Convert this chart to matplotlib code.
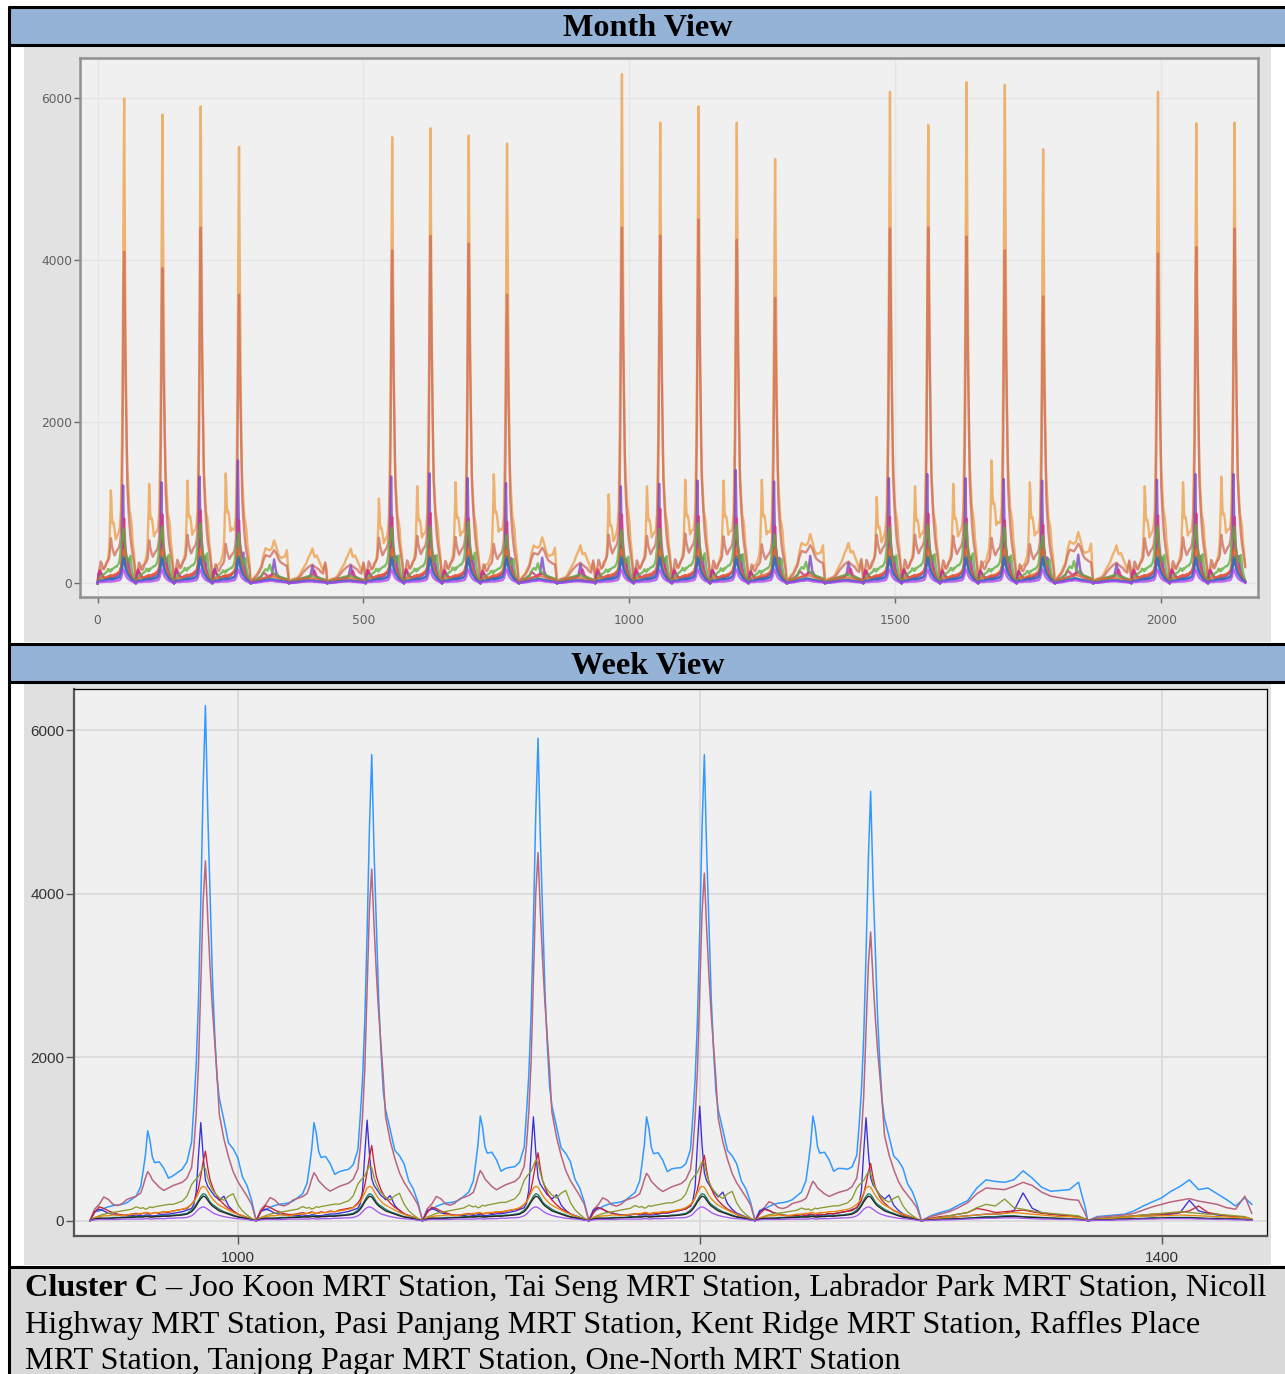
import numpy as np
import matplotlib
matplotlib.use("Agg")
import matplotlib.pyplot as plt
from matplotlib.patches import Rectangle
from matplotlib.lines import Line2D

# ------------------------------------------------------------------ data
DAY_LEN = 72
# W = weekday, A/B = weekend / holiday days (30 days in the month view)
DAY_KIND = "WWWWABBWWWWABWWWWWABWWWWWABWWW"

# weekday profile (offsets within a day), read from the first day of the week view
WD_OFF = [0, 2, 4, 6, 8, 10, 12, 14, 16, 18, 20, 22,
          23, 24, 25, 26, 27, 28,
          30, 32, 34, 36, 38, 40, 42, 44,
          45, 46, 47, 48, 49, 50, 51, 52, 53, 54, 55, 56,
          58, 60, 62, 64, 66, 68, 70]
WD_BLUE = [0, 110, 120, 150, 170, 185, 190, 200, 220, 260, 300, 420,
           600, 800, 1100, 980, 780, 710,
           720, 640, 520, 550, 590, 630, 720, 960,
           1400, 1900, 2700, 3900, 5300, 6300, 5000, 4000, 3000, 2300, 1750, 1500,
           1230, 950, 880, 770, 540, 430, 250]
WD_MAUVE = [0, 140, 200, 290, 260, 200, 185, 210, 260, 280, 300, 340,
            420, 520, 600, 560, 500, 470,
            410, 370, 400, 430, 450, 470, 520, 650,
            900, 1300, 1900, 2900, 3900, 4400, 3700, 3100, 2600, 2200, 1800, 1300,
            1000, 780, 600, 480, 390, 300, 200]
WD_BVIOLET = [0, 110, 140, 120, 90, 80, 70, 60, 60, 60, 70, 60,
              60, 70, 70, 60, 60, 60,
              70, 80, 80, 90, 100, 110, 130, 150,
              200, 350, 800, 1200, 800, 500, 420, 380, 340, 300, 280, 250,
              300, 180, 120, 80, 60, 40, 20]
WD_RED = [0, 100, 170, 150, 120, 100, 80, 70, 70, 80, 90, 80,
          90, 100, 90, 80, 90, 100,
          90, 110, 100, 120, 130, 140, 150, 200,
          240, 300, 400, 550, 720, 850, 650, 500, 420, 350, 300, 260,
          200, 150, 120, 80, 60, 40, 20]
WD_OLIVE = [0, 40, 60, 80, 90, 100, 110, 120, 130, 140, 170, 150,
            160, 140, 150, 170, 160, 170,
            180, 190, 200, 200, 220, 240, 300, 440,
            480, 510, 540, 600, 660, 640, 520, 440, 380, 340, 310, 280,
            250, 300, 330, 200, 120, 70, 30]
WD_ORANGE = [0, 30, 50, 60, 60, 70, 70, 60, 70, 80, 80, 90,
             90, 100, 100, 90, 90, 100,
             100, 110, 110, 120, 130, 140, 160, 200,
             230, 280, 340, 400, 420, 410, 360, 310, 270, 240, 210, 190,
             160, 130, 100, 80, 60, 40, 20]
WD_TEAL = [0, 20, 30, 30, 30, 40, 40, 40, 40, 50, 50, 50,
           50, 60, 60, 50, 50, 50,
           60, 60, 60, 70, 70, 80, 90, 130,
           160, 200, 250, 300, 330, 320, 280, 230, 200, 180, 160, 140,
           110, 90, 70, 50, 40, 30, 10]
WD_BLACK = [0, 20, 30, 30, 30, 30, 35, 35, 40, 40, 45, 45,
            45, 50, 50, 45, 45, 50,
            50, 55, 55, 60, 65, 70, 80, 110,
            140, 180, 230, 270, 300, 290, 250, 210, 180, 160, 140, 120,
            100, 80, 60, 45, 35, 25, 10]
WD_VIOLET = [0, 10, 15, 15, 15, 15, 15, 20, 20, 20, 20, 20,
             20, 25, 25, 20, 20, 25,
             25, 25, 30, 30, 35, 35, 40, 60,
             80, 110, 140, 160, 170, 160, 140, 120, 100, 85, 75, 65,
             50, 40, 30, 25, 20, 15, 5]

# weekend profiles (A = first weekend day, B = second)
WE_OFF = [0, 4, 8, 12, 16, 20, 24, 28, 32, 36, 40, 44, 48, 52, 56, 60, 64, 68, 71]
WEA_BLUE = [0, 60, 100, 130, 190, 245, 400, 500, 480, 470, 500, 610, 520, 410, 360, 370, 380, 470, 150]
WEA_MAUVE = [0, 50, 80, 110, 160, 220, 330, 400, 390, 380, 420, 470, 430, 350, 300, 280, 260, 250, 80]
WEA_BVIOLET = [0, 20, 30, 40, 50, 60, 70, 80, 80, 90, 120, 340, 150, 100, 80, 70, 60, 50, 20]
WEA_RED = [0, 30, 50, 60, 80, 100, 150, 130, 100, 110, 120, 130, 110, 90, 80, 70, 60, 50, 20]
WEA_OLIVE = [0, 20, 40, 60, 80, 100, 160, 200, 180, 265, 160, 140, 120, 100, 90, 80, 70, 60, 20]
WEA_ORANGE = [0, 20, 30, 40, 50, 60, 70, 80, 80, 90, 100, 90, 80, 70, 60, 50, 50, 40, 10]
WEA_TEAL = [0, 10, 15, 20, 25, 30, 40, 50, 50, 60, 60, 50, 45, 40, 35, 30, 25, 20, 5]
WEA_BLACK = [0, 10, 15, 20, 25, 30, 35, 40, 40, 50, 55, 45, 40, 35, 30, 25, 20, 15, 5]
WEA_VIOLET = [0, 5, 10, 10, 15, 20, 25, 30, 30, 35, 35, 30, 25, 20, 20, 15, 15, 10, 5]

WEB_BLUE = [0, 50, 60, 70, 80, 120, 180, 230, 280, 360, 420, 500, 380, 400, 330, 260, 180, 280, 200]
WEB_MAUVE = [0, 40, 50, 60, 70, 90, 130, 170, 200, 230, 250, 270, 240, 220, 200, 160, 140, 300, 90]
WEB_BVIOLET = [0, 20, 30, 30, 40, 50, 60, 60, 70, 80, 100, 250, 120, 90, 70, 60, 50, 40, 20]
WEB_RED = [0, 20, 30, 40, 50, 60, 70, 80, 80, 90, 100, 120, 180, 100, 80, 60, 50, 40, 20]
WEB_OLIVE = [0, 20, 30, 40, 50, 60, 70, 80, 90, 100, 110, 100, 90, 80, 80, 70, 60, 50, 20]
WEB_ORANGE = [0, 15, 20, 30, 40, 50, 55, 60, 60, 65, 70, 65, 60, 55, 50, 45, 40, 35, 15]
WEB_TEAL = [0, 10, 10, 15, 20, 25, 30, 35, 35, 40, 40, 40, 35, 30, 30, 25, 20, 15, 5]
WEB_BLACK = [0, 10, 10, 15, 20, 20, 25, 30, 30, 35, 35, 35, 30, 25, 25, 20, 20, 15, 5]
WEB_VIOLET = [0, 5, 5, 10, 10, 15, 20, 20, 25, 25, 25, 25, 20, 20, 15, 15, 10, 10, 5]

# per weekday (21 weekdays) peak values read from the month view
BLUE_PM = [6000, 5800, 5900, 5400, 5520, 5630, 5540, 5440, 6300, 5700, 5900, 5700, 5250,
           6080, 5670, 6200, 6170, 5370, 6080, 5690, 5700]
BLUE_AM = [1150, 1230, 1270, 1360, 1050, 1200, 1250, 1350, 1100, 1200, 1280, 1270, 1280,
           1070, 1200, 1230, 1520, 1250, 1200, 1250, 1320]
MAUVE_PM = [4100, 3900, 4400, 3570, 4120, 4300, 4200, 3570, 4400, 4300, 4500, 4250, 3530,
            4390, 4400, 4290, 4120, 3550, 4080, 4160, 4390]
BVIOLET_PM = [1210, 1250, 1320, 1520, 1320, 1360, 1300, 1240, 1200, 1230, 1270, 1400, 1260,
              1300, 1350, 1300, 1290, 1270, 1280, 1350, 1350]
RED_PM = [800, 850, 900, 780, 820, 870, 800, 760, 850, 920, 830, 800, 700,
          820, 860, 800, 780, 720, 840, 860, 820]
OLIVE_PM = [680, 700, 740, 620, 690, 700, 760, 600, 660, 670, 740, 720, 600,
            690, 720, 740, 690, 590, 700, 720, 700]
# weekend-day peaks (days 4,5,6,11,12,18,19,25,26)
WE_PEAK = [530, 430, 430, 570, 470, 610, 500, 635, 470]

WEEK_COLORS = ['#3399ff', '#b8667f', '#3a2fd8', '#cc2233', '#8c9b30',
               '#e8890c', '#16806a', '#222222', '#a259f0']
MONTH_COLORS = ['#eea04a', '#cf6f5c', '#7d3fc6', '#d8307a', '#5fae3d',
                '#e8642c', '#24898c', '#3a62c9', '#b045f0']

WD_PROFILES = [WD_BLUE, WD_MAUVE, WD_BVIOLET, WD_RED, WD_OLIVE,
               WD_ORANGE, WD_TEAL, WD_BLACK, WD_VIOLET]
WEA = [WEA_BLUE, WEA_MAUVE, WEA_BVIOLET, WEA_RED, WEA_OLIVE,
       WEA_ORANGE, WEA_TEAL, WEA_BLACK, WEA_VIOLET]
WEB = [WEB_BLUE, WEB_MAUVE, WEB_BVIOLET, WEB_RED, WEB_OLIVE,
       WEB_ORANGE, WEB_TEAL, WEB_BLACK, WEB_VIOLET]
PM_TABLE = {0: BLUE_PM, 1: MAUVE_PM, 2: BVIOLET_PM, 3: RED_PM, 4: OLIVE_PM}


def build_series(k, days):
    xs, ys = [], []
    for d in days:
        kind = DAY_KIND[d]
        if kind == 'W':
            i = DAY_KIND[:d].count('W')
            off = np.array(WD_OFF, float)
            prof = np.array(WD_PROFILES[k], float)
            f = PM_TABLE[k][i] / prof.max() if k in PM_TABLE else 1.0
            if k == 0:
                am = BLUE_AM[i] / WD_BLUE[WD_OFF.index(25)]
                w = np.clip((off - 36) / 8.0, 0, 1)
                f = am * (1 - w) + f * w
            vals = prof * f
        else:
            j = d - DAY_KIND[:d].count('W')
            off = np.array(WE_OFF, float)
            src = WEA if kind == 'A' else WEB
            prof = np.array(src[k], float)
            vals = prof * WE_PEAK[j] / max(src[0])
        xs.append(d * DAY_LEN + off)
        ys.append(vals)
    return np.concatenate(xs), np.concatenate(ys)


# ------------------------------------------------------------------ figure
W, H = 1285, 1374
fig = plt.figure(figsize=(W / 100, H / 100), dpi=100)
fig.patch.set_facecolor('white')


def fx(x):
    return x / W


def fy(y):
    return 1 - y / H


def rect(x0, y0, x1, y1, color):
    fig.patches.append(Rectangle((fx(x0), fy(y1)), (x1 - x0) / W, (y1 - y0) / H,
                                 transform=fig.transFigure, facecolor=color,
                                 edgecolor='none', zorder=-10))


def line(x0, y0, x1, y1, lw=2.2, color='black'):
    fig.add_artist(Line2D([fx(x0), fx(x1)], [fy(y0), fy(y1)], transform=fig.transFigure,
                          color=color, lw=lw, solid_capstyle='butt', zorder=5))


def axes_px(x0, y0, x1, y1):
    return fig.add_axes([fx(x0), fy(y1), (x1 - x0) / W, (y1 - y0) / H])


# table cells
rect(10, 8, W, 44, '#95b3d7')
rect(10, 645, W, 681, '#95b3d7')
rect(24, 46, 1271, 642, '#e2e2e2')
rect(24, 683, 1271, 1265, '#e0e0e0')
rect(10, 1268, W, H, '#d9d9d9')
for yy in (7, 45, 644, 682, 1266.5):
    line(8, yy, W, yy)
line(9, 6, 9, H)

HEAD = dict(ha='center', va='center', fontsize=23.2, fontweight='bold',
            family=['Liberation Serif', 'DejaVu Serif'])
fig.text(fx(648), fy(29), 'Month View', **HEAD)
fig.text(fx(648), fy(666), 'Week View', **HEAD)

# ------------------------------------------------------------------ month view
axm = axes_px(80, 58, 1258, 597)
axm.set_facecolor('#f0f0f0')
for k in range(9):
    x, y = build_series(k, range(30))
    axm.plot(x, y, color=MONTH_COLORS[k], lw=1.7, alpha=0.78, zorder=2 + k * 0.1,
             solid_joinstyle='round')
axm.set_xlim(-33, 2182)
axm.set_ylim(-170, 6499)
axm.set_xticks([0, 500, 1000, 1500, 2000])
axm.set_yticks([0, 2000, 4000, 6000])
axm.grid(True, color='#e5e5e5', lw=1.0, zorder=0)
axm.set_axisbelow(True)
for s in axm.spines.values():
    s.set_color('#909090')
    s.set_linewidth(1.8)
axm.tick_params(axis='both', colors='#6a6a6a', labelcolor='#606060', labelsize=8.8,
                length=4, width=1)
axm.tick_params(axis='y', pad=1.5)
axm.tick_params(axis='x', pad=8)
for lab in axm.get_xticklabels() + axm.get_yticklabels():
    lab.set_family('DejaVu Sans')

# ------------------------------------------------------------------ week view
axw = axes_px(74, 689, 1267, 1236)
axw.set_facecolor('#f0f0f0')
for k in range(9):
    x, y = build_series(k, range(13, 20))
    axw.plot(x, y, color=WEEK_COLORS[k], lw=1.1 if k < 2 else 0.95, zorder=2 + k * 0.1)
axw.set_xlim(929.1, 1445.6)
axw.set_ylim(-187, 6502)
axw.set_xticks([1000, 1200, 1400])
axw.set_yticks([0, 2000, 4000, 6000])
axw.grid(True, color='#dcdcdc', lw=1.4, zorder=0)
axw.set_axisbelow(True)
axw.spines['left'].set_color('#555555')
axw.spines['bottom'].set_color('#555555')
axw.spines['left'].set_linewidth(1.6)
axw.spines['bottom'].set_linewidth(1.6)
axw.spines['top'].set_color('black')
axw.spines['right'].set_color('black')
axw.spines['top'].set_linewidth(0.9)
axw.spines['right'].set_linewidth(0.9)
axw.tick_params(axis='both', colors='#555555', labelcolor='#333333', labelsize=11,
                length=6, width=1)
axw.tick_params(axis='y', pad=1)
axw.tick_params(axis='x', pad=5)
for lab in axw.get_xticklabels() + axw.get_yticklabels():
    lab.set_family(['Liberation Sans Narrow', 'Liberation Sans', 'DejaVu Sans'])

# ------------------------------------------------------------------ caption
CAP = dict(fontsize=23.2, family=['Liberation Serif', 'DejaVu Serif'], va='baseline',
           ha='left', color='black')
renderer = fig.canvas.get_renderer()
t_bold = fig.text(fx(25), fy(1296), 'Cluster C', fontweight='bold', **CAP)
bb = t_bold.get_window_extent(renderer)
fig.text((bb.x1 + 7) / W, fy(1296),
         '\u2013 Joo Koon MRT Station, Tai Seng MRT Station, Labrador Park MRT Station, Nicoll',
         **CAP)
fig.text(fx(25), fy(1333),
         'Highway MRT Station, Pasi Panjang MRT Station, Kent Ridge MRT Station, Raffles Place',
         **CAP)
fig.text(fx(25), fy(1369),
         'MRT Station, Tanjong Pagar MRT Station, One-North MRT Station', **CAP)

fig.savefig('out.png', dpi=100)
